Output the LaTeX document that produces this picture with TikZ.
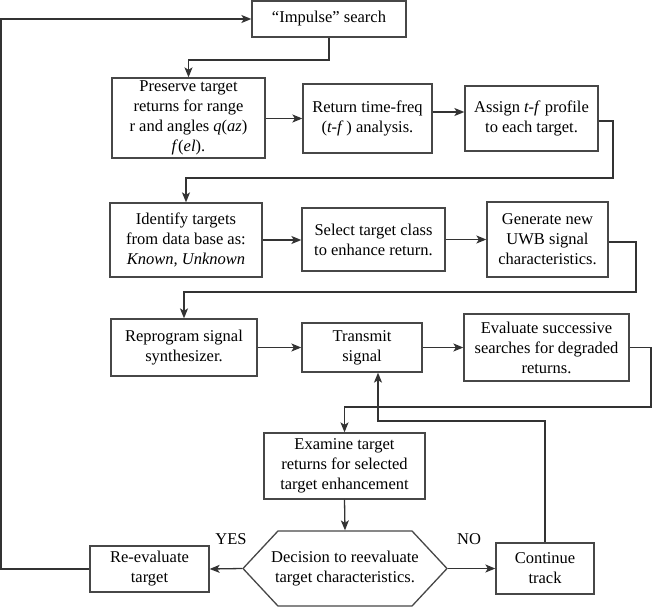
\documentclass[tikz,border=0pt]{standalone}
\usepackage{fontspec}
\setmainfont{Liberation Serif}
\usetikzlibrary{arrows.meta,shapes.symbols}
\begin{document}
\begin{tikzpicture}[x=1pt,y=-1pt,
  box/.style={draw=black!72,line width=1.3pt,inner sep=0pt,align=center,
    font=\fontsize{16.5}{20}\selectfont},
  hexa/.style={draw=black!72,line width=1.3pt,inner sep=0pt,signal,signal to=west and east,
    signal pointer angle=94,minimum width=204pt,minimum height=75pt},
  conn/.style={draw=black!80,line width=1.3pt},
  arr/.style={conn,-{Stealth[length=10pt,width=8pt,inset=2.5pt]}},
  lbl/.style={font=\fontsize{16.5}{20}\selectfont,inner sep=0pt,align=center}]
\useasboundingbox (0,0) rectangle (652,607);
\node[box,minimum width=154pt,minimum height=36pt] (imp) at (329,19) {“Impulse” search};
\node[box,minimum width=153pt,minimum height=80pt] (pres) at (188.5,118) {Preserve target\\returns for range\\r and angles \textit{q}(\textit{az})\\\textit{f}(\textit{el}).};
\node[box,minimum width=129pt,minimum height=69pt] (ret) at (367.5,118.5) {Return time-freq\\(\textit{t-f}\,) analysis.};
\node[box,minimum width=133pt,minimum height=65pt] (asg) at (531.5,118.5) {Assign \textit{t-f} profile\\to each target.};
\node[box,minimum width=152pt,minimum height=74pt] (ident) at (186,240) {Identify targets\\from data base as:\\\textit{Known, Unknown}};
\node[box,minimum width=143pt,minimum height=63pt] (sel) at (373.5,239.5) {Select target class\\to enhance return.};
\node[box,minimum width=121pt,minimum height=75pt] (gen) at (547.5,239.5) {Generate new\\UWB signal\\characteristics.};
\node[box,minimum width=146pt,minimum height=57pt] (reprog) at (184,347.5) {Reprogram signal\\synthesizer.};
\node[box,minimum width=120pt,minimum height=49pt] (trans) at (362,347.5) {Transmit\\signal};
\node[box,minimum width=165pt,minimum height=67pt] (eval) at (546.5,347.5) {Evaluate successive\\searches for degraded\\returns.};
\node[box,minimum width=161pt,minimum height=66pt] (exam) at (344.5,466) {Examine target\\returns for selected\\target enhancement};
\node[hexa,label={[lbl]center:Decision to reevaluate\\target characteristics.}] (dec) at (345,568.5) {};
\node[box,minimum width=119pt,minimum height=46pt] (reeval) at (149.5,569) {Re-evaluate\\target};
\node[box,minimum width=98pt,minimum height=51pt] (cont) at (545,568.5) {Continue\\track};
\node[lbl] (yes) at (231,539) {YES};
\node[lbl] (no) at (469,539) {NO};
\coordinate (c1) at (613,178);
\coordinate (c2) at (636,292);
\coordinate (c3) at (651,407);
\coordinate (c4) at (378,421);
\coordinate (c5) at (1,569);
\coordinate (c6) at (329,60);
% connectors
\draw[arr] (imp.south) -- (c6) -| (pres.north);
\draw[arr] (pres.east |- ret.west) -- (ret.west);
\draw[arr] ([yshift=6.5pt]ret.east) -- ([yshift=6.5pt]asg.west);
\draw[arr] ([yshift=-2.5pt]asg.east) -| (c1) -| (ident.north);
\draw[arr] (ident.east) -- (sel.west |- ident.east);
\draw[arr] (sel.east) -- (gen.west);
\draw[arr] ([yshift=-2.5pt]gen.east) -| (c2) -| (reprog.north);
\draw[arr] (reprog.east) -- (trans.west);
\draw[arr] (trans.east) -- (eval.west);
\draw[arr] (eval.east) -| (c3) -| (exam.north);
\draw[arr] (cont.north) |- (c4) -- (trans.south -| c4);
\draw[arr] (exam.south) -- (dec.north);
\draw[arr] (dec.west) -- (reeval.east);
\draw[arr] (dec.east) -- (cont.west);
\draw[arr] (reeval.west) -- (c5) |- (imp.west);
\end{tikzpicture}
\end{document}
